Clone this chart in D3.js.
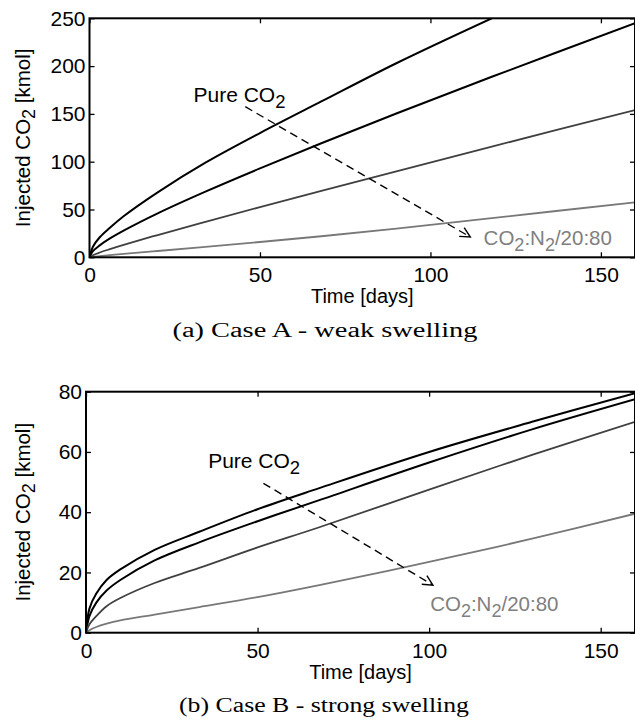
<!DOCTYPE html>
<html>
<head>
<meta charset="utf-8">
<script src="https://cdn.jsdelivr.net/npm/d3@7"></script>
<style>
  body { margin: 0; background: #fff; }
  svg { display: block; }
  .tick text { font-family: "Liberation Sans", Arial, sans-serif; font-size: 21px; fill: #000; }
</style>
</head>
<body>
<svg id="chart" width="635" height="720"></svg>
<script>

// ---- data ----
const seriesColors = ["#000000", "#000000", "#404040", "#787878"];

// Case A - weak swelling
const daysA = [0, 1, 3, 6, 10, 20, 34, 50, 68, 90, 118, 160];
const caseA1 = [0, 11, 21, 31, 43, 68, 99, 130, 163, 203, 250, null];
const caseA2 = [0, 6.4, 12.5, 19.7, 27.9, 46, 68.7, 93, 119.3, 150.4, 188.8, 245];
const caseA3 = [0, 2.2, 5, 8.5, 12.9, 23.3, 37.1, 52.5, 69.5, 90, 115.8, 154];
const caseA4 = [0, 0.5, 1.3, 2.3, 3.5, 6.6, 11, 16, 22, 30, 41, 57.5];
const yTicksA = [0, 50, 100, 150, 200, 250];

// Case B - strong swelling
const daysB = [0, 1, 3, 6, 10, 20, 33, 50, 68, 100, 130, 160];
const caseB1 = [0, 8, 13, 17.5, 21, 27.5, 33.5, 41, 48, 60, 70, 79.5];
const caseB2 = [0, 5.5, 10, 14, 17.5, 24, 30, 37, 44, 56.5, 67.5, 77.5];
const caseB3 = [0, 2.8, 5.5, 8.8, 11.5, 16.5, 21.5, 28.3, 35, 47.5, 59, 70];
const caseB4 = [0, 0.8, 1.9, 3, 4.1, 6, 8.5, 11.8, 15.8, 23.5, 31.2, 39.5];
const yTicksB = [0, 20, 40, 60, 80];

const xTicks = [0, 50, 100, 150];

const svg = d3.select("#chart");

const defs = svg.append("defs");
defs.append("marker")
    .attr("id", "arrowHead")
    .attr("markerUnits", "userSpaceOnUse")
    .attr("markerWidth", 14)
    .attr("markerHeight", 14)
    .attr("refX", 11)
    .attr("refY", 6)
    .attr("orient", "auto")
    .append("path")
    .attr("d", "M1,1 L11,6 L1,11")
    .attr("fill", "none")
    .attr("stroke", "#000")
    .attr("stroke-width", 1.4);

// write text with CO2-style subscripts: parts = [[text, isSub], ...]
const chemText = (sel, parts, subShift) => {
    let shifted = false;
    parts.forEach(([t, sub]) => {
        const ts = sel.append("tspan").text(t);
        if (sub) {
            ts.attr("font-size", "0.88em");
            if (!shifted) {
                ts.attr("dy", subShift);
                shifted = true;
            }
        } else if (shifted) {
            ts.attr("dy", -subShift);
            shifted = false;
        }
    });
};

const drawPanel = (cfg) => {

    const x = d3.scaleLinear().domain([0, 160]).range([cfg.left, cfg.right]);
    const y = d3.scaleLinear().domain([0, cfg.yMax]).range([cfg.bottom, cfg.top]);

    const g = svg.append("g");

    g.append("clipPath")
        .attr("id", cfg.id + "clip")
        .append("rect")
        .attr("x", cfg.left)
        .attr("y", cfg.top)
        .attr("width", cfg.right - cfg.left)
        .attr("height", cfg.bottom - cfg.top);

    const line = d3.line()
        .defined(d => d[1] !== null)
        .x(d => x(d[0]))
        .y(d => y(d[1]))
        .curve(d3.curveCatmullRom.alpha(0.5));

    g.append("g")
        .attr("clip-path", `url(#${cfg.id}clip)`)
        .selectAll("path")
        .data(cfg.series)
        .enter()
        .append("path")
        .attr("d", (s) => line(cfg.days.map((d, i) => [d, s[i]])))
        .attr("fill", "none")
        .attr("stroke", (s, i) => seriesColors[i])
        .attr("stroke-width", (s, i) => i < 2 ? 2 : 1.8);

    // axes, MATLAB style: inward ticks on all four sides
    const bottomAxis = g.append("g")
        .attr("transform", `translate(0,${cfg.bottom})`)
        .call(d3.axisBottom(x).tickValues(xTicks).tickSize(-5).tickPadding(10));
    const leftAxis = g.append("g")
        .attr("transform", `translate(${cfg.left},0)`)
        .call(d3.axisLeft(y).tickValues(cfg.yTicks).tickSize(-5).tickPadding(4));
    const topAxis = g.append("g")
        .attr("transform", `translate(0,${cfg.top})`)
        .call(d3.axisTop(x).tickValues(xTicks).tickSize(-5).tickFormat(""));
    const rightAxis = g.append("g")
        .attr("transform", `translate(${cfg.right},0)`)
        .call(d3.axisRight(y).tickValues(cfg.yTicks).tickSize(-5).tickFormat(""));

    [bottomAxis, leftAxis, topAxis, rightAxis].forEach(a => {
        a.select(".domain").remove();
        a.selectAll(".tick line").attr("stroke", "#000").attr("stroke-width", 1.3);
    });

    g.append("rect")
        .attr("x", cfg.left)
        .attr("y", cfg.top)
        .attr("width", cfg.right - cfg.left)
        .attr("height", cfg.bottom - cfg.top)
        .attr("fill", "none")
        .attr("stroke", "#000")
        .attr("stroke-width", 2);

    // axis titles
    g.append("text")
        .attr("x", (cfg.left + cfg.right) / 2)
        .attr("y", cfg.bottom + 46)
        .attr("text-anchor", "middle")
        .attr("font-family", "Liberation Sans, Arial, sans-serif")
        .attr("font-size", 20)
        .text("Time [days]");

    const yl = g.append("text")
        .attr("transform", `translate(30,${(cfg.top + cfg.bottom) / 2}) rotate(-90)`)
        .attr("text-anchor", "middle")
        .attr("font-family", "Liberation Sans, Arial, sans-serif")
        .attr("font-size", 20.5);
    chemText(yl, [["Injected CO", false], ["2", true], [" [kmol]", false]], 5);

    // annotations
    const pure = g.append("text")
        .attr("x", x(cfg.pureAt[0]))
        .attr("y", y(cfg.pureAt[1]))
        .attr("font-family", "Liberation Sans, Arial, sans-serif")
        .attr("font-size", 21);
    chemText(pure, [["Pure CO", false], ["2", true]], 6);

    const mix = g.append("text")
        .attr("x", x(cfg.mixAt[0]))
        .attr("y", y(cfg.mixAt[1]))
        .attr("fill", "#7f7f7f")
        .attr("font-family", "Liberation Sans, Arial, sans-serif")
        .attr("font-size", 20.5);
    chemText(mix, [["CO", false], ["2", true], [":N", false], ["2", true], ["/20:80", false]], 6);

    g.append("line")
        .attr("x1", x(cfg.arrow[0]))
        .attr("y1", y(cfg.arrow[1]))
        .attr("x2", x(cfg.arrow[2]))
        .attr("y2", y(cfg.arrow[3]))
        .attr("stroke", "#000")
        .attr("stroke-width", 1.4)
        .attr("stroke-dasharray", "8 5")
        .attr("marker-end", "url(#arrowHead)");

    g.append("text")
        .attr("x", cfg.captionX)
        .attr("y", cfg.captionY)
        .attr("text-anchor", "middle")
        .attr("font-family", "Liberation Serif, serif")
        .attr("font-size", 20)
        .attr("textLength", cfg.captionW)
        .attr("lengthAdjust", "spacingAndGlyphs")
        .text(cfg.caption);
};

drawPanel({
    id: "a",
    left: 89.5, right: 635, top: 18.3, bottom: 257.3,
    yMax: 250, yTicks: yTicksA,
    days: daysA, series: [caseA1, caseA2, caseA3, caseA4],
    pureAt: [30.5, 162.8], mixAt: [115.6, 12.9],
    arrow: [45.7, 157.5, 111.7, 21.2],
    caption: "(a) Case A - weak swelling", captionX: 325, captionY: 337, captionW: 305
});

drawPanel({
    id: "b",
    left: 86, right: 635, top: 391.7, bottom: 632.7,
    yMax: 80, yTicks: yTicksB,
    days: daysB, series: [caseB1, caseB2, caseB3, caseB4],
    pureAt: [35.6, 54.7], mixAt: [100.3, 7.3],
    arrow: [51.7, 49.6, 101.1, 15.8],
    caption: "(b) Case B - strong swelling", captionX: 324, captionY: 712, captionW: 290
});

</script>
</body>
</html>
